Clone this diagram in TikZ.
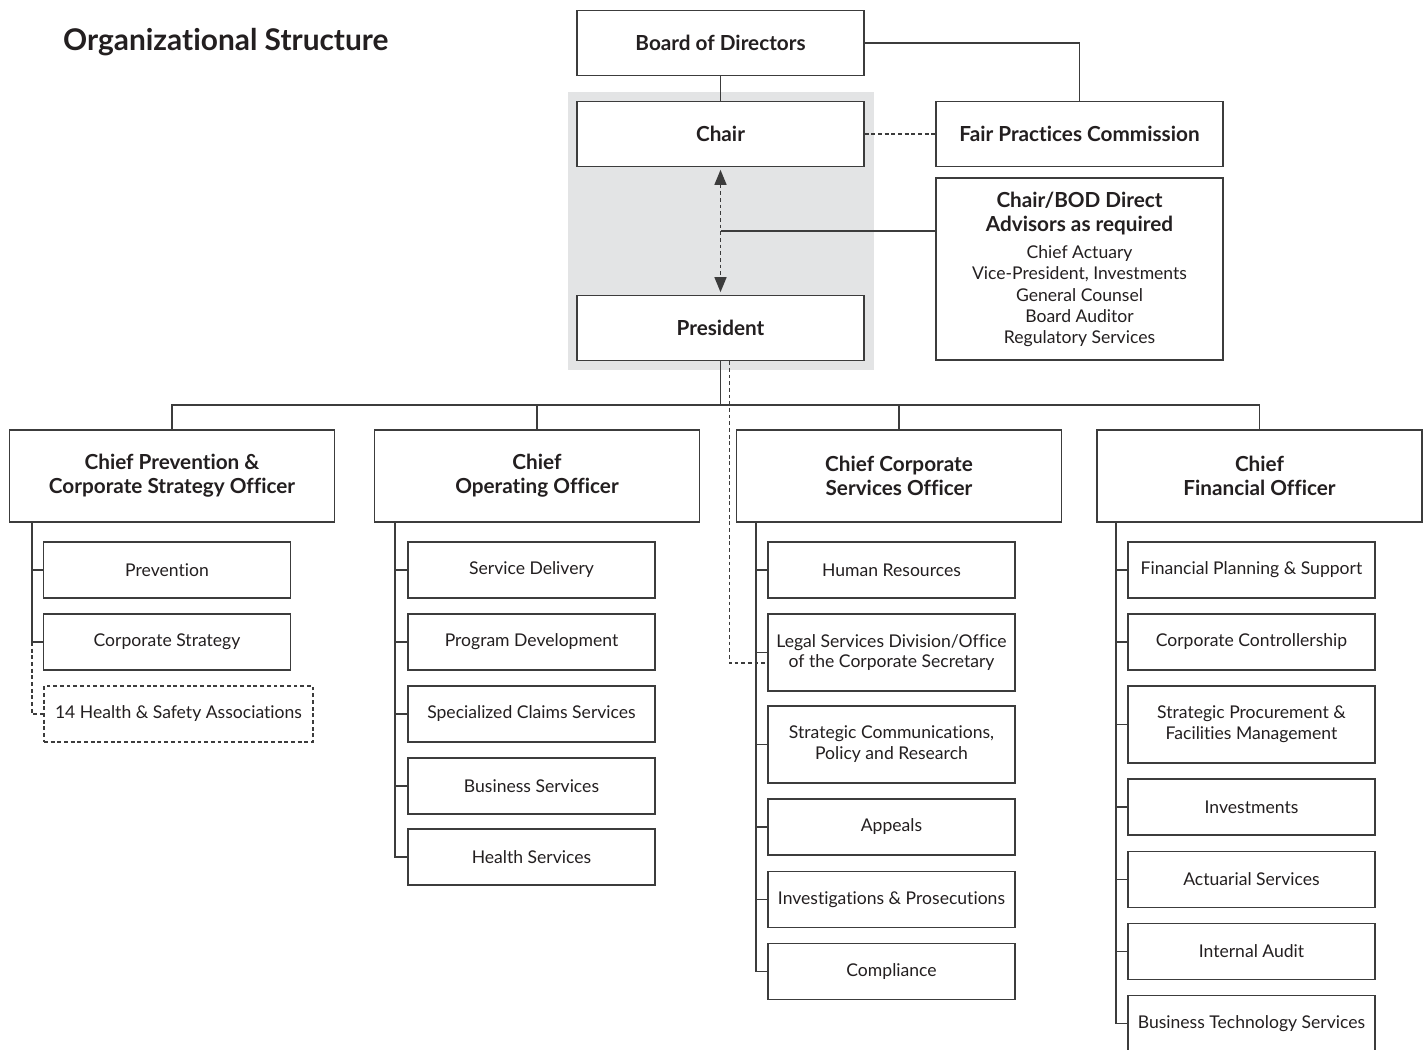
\documentclass[tikz,border=0pt]{standalone}
\usepackage{fontspec}
\setmainfont{Lato}[Ligatures=NoCommon]
\usetikzlibrary{positioning,arrows.meta}
\definecolor{linegray}{HTML}{3C3C3C}
\definecolor{inkgray}{HTML}{231F20}
\definecolor{panelgray}{HTML}{E3E4E5}

\begin{document}
\begin{tikzpicture}[x=0.02cm, y=-0.02cm, >={Triangle[length=0.3cm, width=0.24cm]},
  box/.style={draw=linegray, line width=0.8pt, fill=white, text=inkgray, align=center, inner sep=2pt, font=\fontsize{10}{11.9}\selectfont},
  headbox/.style={box, minimum width=5.74cm, minimum height=1.3cm, font=\fontsize{11.8}{13.6}\selectfont\bfseries},
  chiefbox/.style={box, minimum width=6.5cm, minimum height=1.84cm, font=\fontsize{11.8}{13.6}\selectfont\bfseries},
  unitbox/.style={box, minimum width=4.94cm, minimum height=1.12cm},
  tallbox/.style={unitbox, minimum height=1.54cm},
  link/.style={draw=linegray, line width=0.8pt},
  dashlink/.style={link, dash pattern=on 2.2pt off 1.6pt}]

  \clip (0,0) rectangle (1425,1049);

  % Titel
  \node[anchor=west, text=inkgray, font=\fontsize{17}{20}\selectfont\bfseries] (title) at (57,42) {Organizational Structure};

  % graues Feld hinter Chair und President
  \fill[panelgray] (568,92) rectangle (874,370);

  % Leitung oben
  \node[headbox] (bod) at (720.5,43) {Board of Directors};
  \node[headbox] (chair) at (720.5,134) {Chair};
  \node[headbox] (pres) at (720.5,328) {President};
  \node[headbox] (fpc) at (1079.5,134) {Fair Practices Commission};
  \node[headbox, minimum height=3.64cm, font=\fontsize{10}{12}\selectfont] (adv) at (1079.5,269) {\textbf{\fontsize{11.8}{12}\selectfont Chair/BOD Direct}\\[2.2pt]\textbf{\fontsize{11.8}{12}\selectfont Advisors as required}\\[3.3pt]Chief Actuary\\Vice-President, Investments\\General Counsel\\Board Auditor\\Regulatory Services};

  \coordinate (advj) at (720.5,231);
  \coordinate (bus) at (720.5,405);

  \draw[link] (bod) -- (chair);
  \draw[link] (bod.east) -| (fpc.north);
  \draw[dashlink] (chair.east) -- (fpc.west);
  \draw[dashlink, <->, shorten <=1.5pt, shorten >=1.5pt] (chair.south) -- (pres.north);
  \draw[link] (advj) -- (advj -| adv.west);

  % Chief Officers
  \node[chiefbox] (cpcso) at (172,476) {Chief Prevention \&\\Corporate Strategy Officer};
  \node[chiefbox] (coo) at (537,476) {Chief\\Operating Officer};
  \node[chiefbox] (ccso) at (899,476) {Chief Corporate\\Services Officer};
  \node[chiefbox] (cfo) at (1259.5,476) {Chief\\Financial Officer};

  \draw[link] (pres.south) -- (bus);
  \draw[link] (cpcso.north) |- (bus) -| (cfo.north);
  \draw[link] (coo.north) -- (coo.north |- bus);
  \draw[link] (ccso.north) -- (ccso.north |- bus);

  % Spalte 1
  \coordinate (s1) at (32,0);
  \node[unitbox] (prev) at (167,570) {Prevention};
  \node[unitbox] (cstrat) at (167,642) {Corporate Strategy};
  \node[unitbox, minimum width=5.38cm, dashlink] (hsa) at (178.5,714) {14 Health \& Safety Associations};

  \draw[link] (cpcso.south -| s1) |- (prev.west);
  \draw[link] (cpcso.south -| s1) |- (cstrat.west);
  \draw[dashlink] (cstrat.west -| s1) |- (hsa.west);

  % Spalte 2
  \coordinate (s2) at (395,0);
  \node[unitbox] (sdel) at (531.5,570) {Service Delivery};
  \node[unitbox] (pdev) at (531.5,642) {Program Development};
  \node[unitbox] (scs) at (531.5,714) {Specialized Claims Services};
  \node[unitbox] (bserv) at (531.5,786) {Business Services};
  \node[unitbox] (hserv) at (531.5,857) {Health Services};

  \draw[link] (coo.south -| s2) |- (sdel.west);
  \draw[link] (coo.south -| s2) |- (pdev.west);
  \draw[link] (coo.south -| s2) |- (scs.west);
  \draw[link] (coo.south -| s2) |- (bserv.west);
  \draw[link] (coo.south -| s2) |- (hserv.west);

  % Spalte 3
  \coordinate (s3) at (756,0);
  \node[unitbox] (hr) at (891.5,570) {Human Resources};
  \node[tallbox] (legal) at (891.5,652.5) {Legal Services Division/Office\\of the Corporate Secretary};
  \node[tallbox] (scpr) at (891.5,744.5) {Strategic Communications,\\Policy and Research};
  \node[unitbox] (appeals) at (891.5,827) {Appeals};
  \node[unitbox] (invest) at (891.5,899.5) {Investigations \& Prosecutions};
  \node[unitbox] (compl) at (891.5,971.5) {Compliance};

  \draw[link] (ccso.south -| s3) |- (hr.west);
  \draw[link] (ccso.south -| s3) |- (legal.west);
  \draw[link] (ccso.south -| s3) |- (scpr.west);
  \draw[link] (ccso.south -| s3) |- (appeals.west);
  \draw[link] (ccso.south -| s3) |- (invest.west);
  \draw[link] (ccso.south -| s3) |- (compl.west);
  \draw[dashlink] ([xshift=5pt]pres.south) |- ([yshift=-6pt]legal.west);

  % Spalte 4
  \coordinate (s4) at (1116,0);
  \node[unitbox] (fps) at (1251.5,570) {Financial Planning \& Support};
  \node[unitbox] (cctrl) at (1251.5,642) {Corporate Controllership};
  \node[tallbox] (spfm) at (1251.5,724.5) {Strategic Procurement \&\\Facilities Management};
  \node[unitbox] (inv) at (1251.5,807) {Investments};
  \node[unitbox] (act) at (1251.5,879.5) {Actuarial Services};
  \node[unitbox] (iaud) at (1251.5,951.5) {Internal Audit};
  \node[unitbox] (bts) at (1251.5,1023.5) {Business Technology Services};

  \draw[link] (cfo.south -| s4) |- (fps.west);
  \draw[link] (cfo.south -| s4) |- (cctrl.west);
  \draw[link] (cfo.south -| s4) |- (spfm.west);
  \draw[link] (cfo.south -| s4) |- (inv.west);
  \draw[link] (cfo.south -| s4) |- (act.west);
  \draw[link] (cfo.south -| s4) |- (iaud.west);
  \draw[link] (cfo.south -| s4) |- (bts.west);

\end{tikzpicture}
\end{document}
